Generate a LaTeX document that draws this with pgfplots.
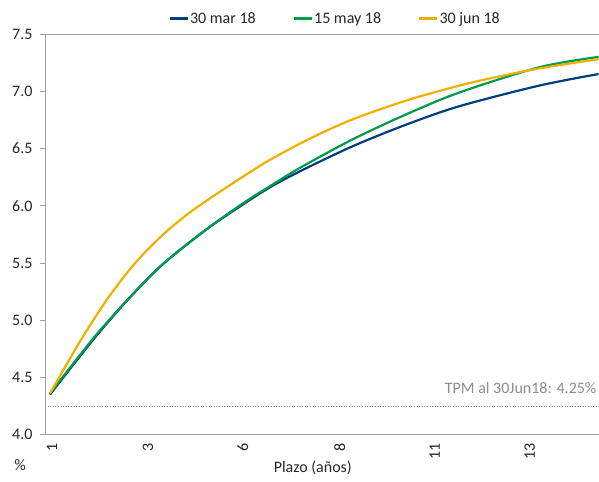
\documentclass[border=0pt]{standalone}
\usepackage{pgfplots}
\pgfplotsset{compat=1.18}
\usepackage{fontspec}
\setmainfont{Carlito}
\definecolor{cblue}{RGB}{0,62,125}
\definecolor{cgreen}{RGB}{0,155,72}
\definecolor{cyellow}{RGB}{240,176,0}
\definecolor{axgray}{RGB}{160,160,160}
\definecolor{txtgray}{RGB}{140,140,140}
\begin{document}
\begin{tikzpicture}
\begin{axis}[
  scale only axis, width=554pt, height=401pt,
  xmin=45, xmax=599, ymin=4, ymax=7.5,
  axis x line*=bottom, axis y line*=left,
  axis line style={draw=axgray, line width=0.8pt},
  clip mode=individual,
  font=\fontsize{16}{18}\selectfont,
  /pgf/number format/assume math mode=true,
  xtick={52,148,243,340,435,530},
  xticklabels={1,3,6,8,11,13},
  x tick label style={rotate=90, anchor=east, text=black!85},
  major x tick style={draw=none},
  ytick={4,4.5,5,5.5,6,6.5,7,7.5},
  y tick label style={text=black!85, xshift=-4pt, /pgf/number format/fixed, /pgf/number format/fixed zerofill, /pgf/number format/precision=1},
  tick align=outside,
  major tick length=5pt,
  major y tick style={draw=axgray, line width=0.8pt},
  legend style={at={(axis cs:335,7.5)}, anchor=south, yshift=5pt, draw=none,
    fill=none, font=\fontsize{16}{18}\selectfont, inner xsep=0pt,
    nodes={inner xsep=1pt, text=black!85},
    /tikz/every even column/.append style={column sep=36pt}},
  legend columns=3,
  legend image code/.code={\draw[#1, line width=2.4pt] (0pt,0pt) -- (18pt,0pt);},
]
\addplot[cblue, line width=2.2pt, smooth] coordinates {
(50,4.35) (75,4.63) (98,4.88) (130,5.20) (163,5.49) (206,5.79) (243,6.01) (270,6.16)
(300,6.30) (353,6.52) (407,6.71) (460,6.87) (540,7.05) (599,7.15)};
\addlegendentry{30 mar 18}
\addplot[cgreen, line width=2.2pt, smooth] coordinates {
(50,4.36) (75,4.64) (98,4.89) (130,5.20) (163,5.49) (206,5.79) (243,6.02) (270,6.17)
(300,6.33) (353,6.58) (407,6.80) (460,6.99) (540,7.21) (599,7.30)};
\addlegendentry{15 may 18}
\addplot[cyellow, line width=2.2pt, smooth] coordinates {
(50,4.36) (67,4.62) (85,4.885) (107,5.18) (129,5.435) (147,5.61) (166,5.77) (186,5.915)
(206,6.04) (238,6.225) (270,6.40) (311,6.59) (353,6.755) (407,6.92) (460,7.05) (500,7.13) (540,7.20) (599,7.28)};
\addlegendentry{30 jun 18}
\addplot[txtgray, dotted, line width=0.6pt, forget plot] coordinates {(45,4.25) (599,4.25)};
\draw[axgray, line width=0.8pt] (axis cs:45,7.5) -- (axis cs:599,7.5);
\node[anchor=east, text=txtgray, inner sep=0pt] at (axis cs:597,4.41) {TPM al 30Jun18: 4.25\%};
\node[text=black!85] at (axis cs:313,4) [yshift=-33pt] {Plazo (años)};
\node[text=black!85] at (axis cs:45,4) [xshift=-25pt, yshift=-30pt] {\%};
\end{axis}
\path (current axis.south west) ++(-45pt,-47pt);
\path (current axis.north east) ++(0pt,34pt);
\end{tikzpicture}
\end{document}
